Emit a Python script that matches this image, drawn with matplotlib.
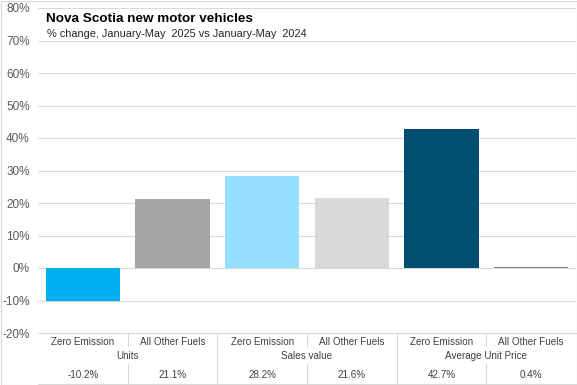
import matplotlib
matplotlib.use("Agg")
import matplotlib.pyplot as plt
import matplotlib.transforms as mtransforms
from matplotlib.lines import Line2D
from matplotlib.patches import Rectangle

# chart data
groups = ["Units", "Sales value", "Average Unit Price"]
fuels = ["Zero Emission", "All Other Fuels"]
values = [-10.2, 21.1, 28.2, 21.6, 42.7, 0.4]
colors = ["#00B0F0", "#A5A5A5", "#95E0FF", "#D9D9D9", "#004F71", "#7F7F7F"]
yticks = list(range(-20, 81, 10))

plt.rcParams["font.family"] = ["Liberation Sans", "DejaVu Sans"]

W, H = 577, 385
fig = plt.figure(figsize=(W / 100, H / 100), dpi=100)
ax = fig.add_axes([38 / W, (H - 333) / H, (576 - 38) / W, (333 - 8) / H])

x = list(range(len(values)))
ax.bar(x, values, width=0.83, color=colors, zorder=3)

ax.set_xlim(-0.5, len(values) - 0.5)
ax.set_ylim(-20, 80)
ax.set_yticks(yticks)
ax.set_yticklabels([f"{t}%" for t in yticks], fontsize=8.5, color="#595959")
ax.tick_params(axis="y", length=0, pad=6)
ax.set_xticks([])
ax.grid(axis="y", color="#D9D9D9", linewidth=0.8, zorder=0)
for s in ["top", "right", "left"]:
    ax.spines[s].set_visible(False)
ax.spines["bottom"].set_color("#D9D9D9")
ax.spines["bottom"].set_linewidth(0.8)

# title and subtitle
fig.text(46 / W, (H - 19) / H, "Nova Scotia new motor vehicles", fontsize=9.7,
         fontweight="bold", va="center", ha="left")
fig.text(47 / W, (H - 34) / H, "% change, January-May  2025 vs January-May  2024",
         fontsize=7.9, va="center", ha="left", color="#262626")

# table under the axis
tr = mtransforms.blended_transform_factory(ax.transData, fig.transFigure)


def fy(px):
    return (H - px) / H


line_kw = dict(color="#D9D9D9", linewidth=0.8, transform=tr, clip_on=False)
n = len(values)
for i in range(n):
    ax.text(i, fy(342), fuels[i % 2], transform=tr, ha="center", va="center",
            fontsize=7.1, color="#404040")
    ax.text(i, fy(375), f"{values[i]:.1f}%", transform=tr, ha="center",
            va="center", fontsize=7.1, color="#404040")
for g, name in enumerate(groups):
    ax.text(2 * g + 0.5, fy(356), name, transform=tr, ha="center", va="center",
            fontsize=7.1, color="#404040")

for b in range(1, n):
    xb = b - 0.5
    if b % 2 == 0:
        fig.add_artist(Line2D([xb, xb], [fy(333), fy(384)], **line_kw))
    else:
        fig.add_artist(Line2D([xb, xb], [fy(333), fy(346)], **line_kw))
        fig.add_artist(Line2D([xb, xb], [fy(364), fy(384)], **line_kw))
fig.add_artist(Line2D([-0.5, n - 0.5], [fy(384), fy(384)], **line_kw))

# outer border
fig.add_artist(Rectangle((0.5 / W, 0.5 / H), (W - 1) / W, (H - 1) / H,
                         transform=fig.transFigure, fill=False,
                         edgecolor="#D9D9D9", linewidth=0.8))

fig.savefig("out.png", dpi=100)
